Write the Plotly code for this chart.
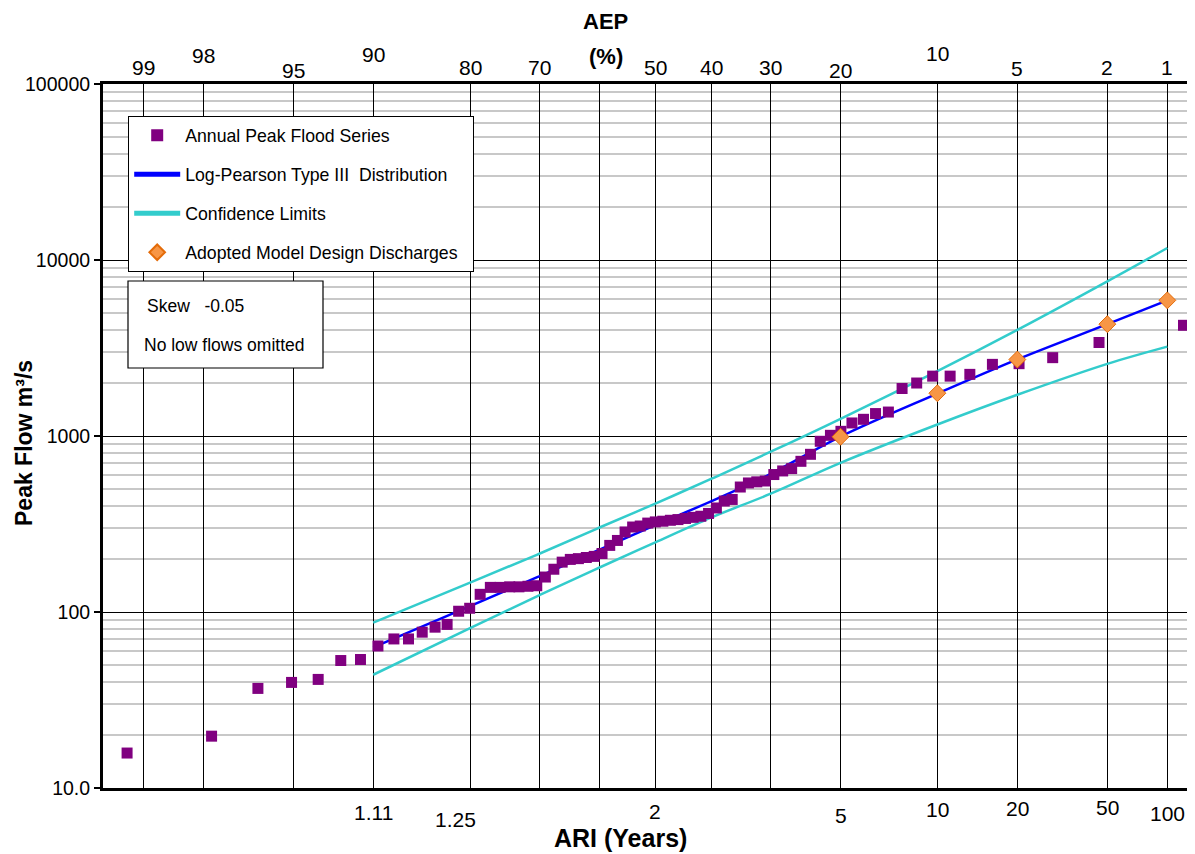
import math
import plotly.graph_objects as go

# ---------------- data ----------------
# Annual peak flood series: AEP (%) plotting position and peak flow (m3/s)
point_aep = [0.82, 2.19, 3.55, 4.92, 6.28, 7.65, 9.02, 10.38, 11.75, 13.11,
             14.48, 15.85, 17.21, 18.58, 19.95, 21.31, 22.68, 24.04, 25.41, 26.78,
             28.14, 29.51, 30.87, 32.24, 33.61, 34.97, 36.34, 37.70, 39.07, 40.44,
             41.80, 43.17, 44.54, 45.90, 47.27, 48.63, 50.00, 51.37, 52.73, 54.10,
             55.46, 56.83, 58.20, 59.56, 60.93, 62.30, 63.66, 65.03, 66.39, 67.76,
             69.13, 70.49, 71.86, 73.22, 74.59, 75.96, 77.32, 78.69, 80.05, 81.42,
             82.79, 84.15, 85.52, 86.89, 88.25, 89.62, 90.98, 92.35, 93.72, 95.08,
             96.45, 97.81, 99.18]
point_flow = [4256, 3398, 2787, 2576, 2553, 2240, 2188, 2188, 2000, 1862,
              1368, 1341, 1244, 1186, 1063, 1009, 933, 787, 718, 653,
              633, 604, 555, 549, 541, 513, 436, 427, 390, 363,
              350, 345, 340, 335, 332, 328, 325, 320, 308, 304,
              285, 255, 239, 215, 207, 204, 201, 199, 192, 175,
              158, 141, 140, 139, 139, 138, 138, 126, 105, 101,
              85, 82, 76.8, 70.3, 70.3, 64.1, 53.7, 53, 41.4, 39.8,
              36.8, 19.7, 15.8]

# Log-Pearson Type III fit and confidence limits
curve_aep = [90, 80, 70, 60, 50, 40, 30, 20, 10, 5, 2, 1]
lp3_flow = [63, 108, 160, 226, 312, 425, 610, 992, 1741, 2723, 4319, 5900]
upper_flow = [87, 147, 215, 302, 413, 570, 814, 1253, 2337, 4008, 7566, 11700]
lower_flow = [44, 81, 125, 179, 249, 344, 470, 704, 1162, 1715, 2570, 3220]

# Adopted model design discharges
design_aep = [20, 10, 5, 2, 1]
design_flow = [990, 1750, 2720, 4320, 5900]

# Axis labels
grid_aep = [99, 98, 95, 90, 80, 70, 60, 50, 40, 30, 20, 10, 5, 2, 1]
top_labels = ["99", "98", "95", "90", "80", "70", "", "50", "40", "30", "20", "10", "5", "2", "1"]
top_label_y = [67, 55, 70, 54, 67, 67, 0, 67, 67, 67, 70, 53, 68, 67, 67]   # px from top
ari_aep = [90, 80, 50, 20, 10, 5, 2, 1]
ari_labels = ["1.11", "1.25", "2", "5", "10", "20", "50", "100"]
ari_label_y = [812, 819, 811, 815, 809, 808, 807, 813]
ari_label_dx = [0, -15, 0, 0, 0, 0, 0, 0]
y_tickvals = [10, 100, 1000, 10000, 100000]
y_ticktext = ["10.0", "100", "1000", "10000", "100000"]


# ---------------- normal probability scale ----------------
def norm_ppf(p):
    a = [-3.969683028665376e+01, 2.209460984245205e+02, -2.759285104469687e+02,
         1.383577518672690e+02, -3.066479806614716e+01, 2.506628277459239e+00]
    b = [-5.447609879822406e+01, 1.615858368580409e+02, -1.556989798598866e+02,
         6.680131188771972e+01, -1.328068155288572e+01]
    c = [-7.784894002430293e-03, -3.223964580411365e-01, -2.400758277161838e+00,
         -2.549732539343734e+00, 4.374664141464968e+00, 2.938163982698783e+00]
    d = [7.784695709041462e-03, 3.224671290700398e-01, 2.445134137142996e+00,
         3.754408661907416e+00]
    plow = 0.02425
    if p < plow:
        q = math.sqrt(-2 * math.log(p))
        return (((((c[0]*q+c[1])*q+c[2])*q+c[3])*q+c[4])*q+c[5]) / \
               ((((d[0]*q+d[1])*q+d[2])*q+d[3])*q+1)
    if p > 1 - plow:
        q = math.sqrt(-2 * math.log(1 - p))
        return -(((((c[0]*q+c[1])*q+c[2])*q+c[3])*q+c[4])*q+c[5]) / \
                ((((d[0]*q+d[1])*q+d[2])*q+d[3])*q+1)
    q = p - 0.5
    r = q * q
    return (((((a[0]*r+a[1])*r+a[2])*r+a[3])*r+a[4])*r+a[5])*q / \
           (((((b[0]*r+b[1])*r+b[2])*r+b[3])*r+b[4])*r+1)


def zx(aep_list):
    return [norm_ppf(1 - v / 100.0) for v in aep_list]


# page geometry (the page body has an 8px margin)
OFF = 8
PAGE_W, PAGE_H = 1195, 854
PL, PR, PT, PB = 103, 1195, 84, 788          # plot area in page pixels
W, H = PAGE_W - OFF, PAGE_H - OFF
ML, MT = PL - OFF, PT - OFF
MR, MB = (PAGE_W - OFF) - (PR - OFF), PAGE_H - PB
PW, PH = PR - PL, PB - PT


def px(xp):
    return (xp - PL) / PW


def py(yp):
    return (PB - yp) / PH


FONT = "Liberation Sans, Arial, sans-serif"

fig = go.Figure()

fig.add_trace(go.Scatter(
    x=zx(curve_aep), y=upper_flow, mode="lines", name="Confidence Limits",
    line=dict(color="#33CCCC", width=2.5, shape="spline", smoothing=1), legendgroup="c", legendrank=3))
fig.add_trace(go.Scatter(
    x=zx(curve_aep), y=lower_flow, mode="lines", name="Confidence Limits",
    line=dict(color="#33CCCC", width=2.5, shape="spline", smoothing=1), legendgroup="c", showlegend=False))
fig.add_trace(go.Scatter(
    x=zx(curve_aep), y=lp3_flow, mode="lines", name="Log-Pearson Type III  Distribution",
    line=dict(color="#0000FF", width=2.5, shape="spline", smoothing=1), legendgroup="b", legendrank=2))
fig.add_trace(go.Scatter(
    x=zx(point_aep), y=point_flow, mode="markers", name="Annual Peak Flood Series",
    marker=dict(symbol="square", size=11, color="#800080"), legendgroup="a", legendrank=1))
fig.add_trace(go.Scatter(
    x=zx(design_aep), y=design_flow, mode="markers", name="Adopted Model Design Discharges\u00a0\u00a0",
    marker=dict(symbol="diamond", size=13, color="#F79646", line=dict(color="#E46C0A", width=1)),
    legendgroup="d", legendrank=4))

x_range = [(PL - 655.3) / 220.1, (PR - 655.3) / 220.1]

annotations = []
gz = zx(grid_aep)
for z, t, yp in zip(gz, top_labels, top_label_y):
    if t:
        annotations.append(dict(x=z, y=1, xref="x", yref="paper", text=t, showarrow=False,
                                yanchor="middle", yshift=PT - yp,
                                font=dict(family=FONT, size=21, color="black")))
az = zx(ari_aep)
for z, t, yp, dx in zip(az, ari_labels, ari_label_y, ari_label_dx):
    annotations.append(dict(x=z, y=0, xref="x", yref="paper", text=t, showarrow=False,
                            yanchor="middle", yshift=PB - yp, xshift=dx,
                            font=dict(family=FONT, size=21, color="black")))

annotations += [
    dict(x=px(605), y=1, xref="paper", yref="paper", text="<b>AEP</b>", showarrow=False,
         yanchor="middle", yshift=PT - 21, font=dict(family=FONT, size=22, color="black")),
    dict(x=px(606), y=1, xref="paper", yref="paper", text="<b>(%)</b>", showarrow=False,
         yanchor="middle", yshift=PT - 56, font=dict(family=FONT, size=22, color="black")),
    dict(x=px(620), y=0, xref="paper", yref="paper", text="<b>ARI (Years)</b>", showarrow=False,
         yanchor="middle", yshift=PB - 838, font=dict(family=FONT, size=25, color="black")),
    dict(x=px(24), y=py(443), xref="paper", yref="paper",
         text="<b>Peak Flow m³/s</b>", showarrow=False, textangle=-90,
         xanchor="center", yanchor="middle", font=dict(family=FONT, size=23, color="black")),
    dict(x=px(145), y=py(306), xref="paper", yref="paper",
         text="Skew\u00a0\u00a0\u00a0-0.05", showarrow=False, xanchor="left", yanchor="middle",
         font=dict(family=FONT, size=17.5, color="black")),
    dict(x=px(142), y=py(345), xref="paper", yref="paper",
         text="No low flows omitted", showarrow=False, xanchor="left", yanchor="middle",
         font=dict(family=FONT, size=17.5, color="black")),
]

shapes = [dict(type="rect", xref="paper", yref="paper",
               x0=px(128), x1=px(323), y0=py(368), y1=py(281),
               line=dict(color="black", width=1.2), fillcolor="white", layer="above")]

minor_vals = [m * 10 ** e for e in range(1, 5) for m in range(2, 10)]

fig.update_layout(
    width=W, height=H,
    margin=dict(l=ML, r=MR, t=MT, b=MB, pad=0),
    paper_bgcolor="white", plot_bgcolor="white",
    font=dict(family=FONT, color="black"),
    showlegend=True,
    legend=dict(x=px(128), y=py(116), xanchor="left", yanchor="top",
                bgcolor="white", bordercolor="black", borderwidth=1.2,
                font=dict(family=FONT, size=17.7, color="black"),
                traceorder="grouped", tracegroupgap=13, itemwidth=46, itemsizing="constant"),
    annotations=annotations,
    shapes=shapes,
    xaxis=dict(range=x_range, tickmode="array", tickvals=gz, showticklabels=False,
               showgrid=True, gridcolor="black", gridwidth=1.2, zeroline=False,
               showline=True, linecolor="black", linewidth=3, mirror=True, ticks=""),
    yaxis=dict(type="log", range=[1, 5], tickmode="array", tickvals=y_tickvals, ticktext=y_ticktext,
               showgrid=True, gridcolor="black", gridwidth=1.3, zeroline=False,
               showline=True, linecolor="black", linewidth=3, mirror=False,
               ticks="outside", ticklen=6, tickcolor="black", tickwidth=1.5,
               tickfont=dict(family=FONT, size=19.5, color="black"),
               minor=dict(tickmode="array", tickvals=minor_vals, showgrid=True,
                          gridcolor="#C8C8C8", gridwidth=1.5, ticks="")),
)

fig.write_html("out.html")
